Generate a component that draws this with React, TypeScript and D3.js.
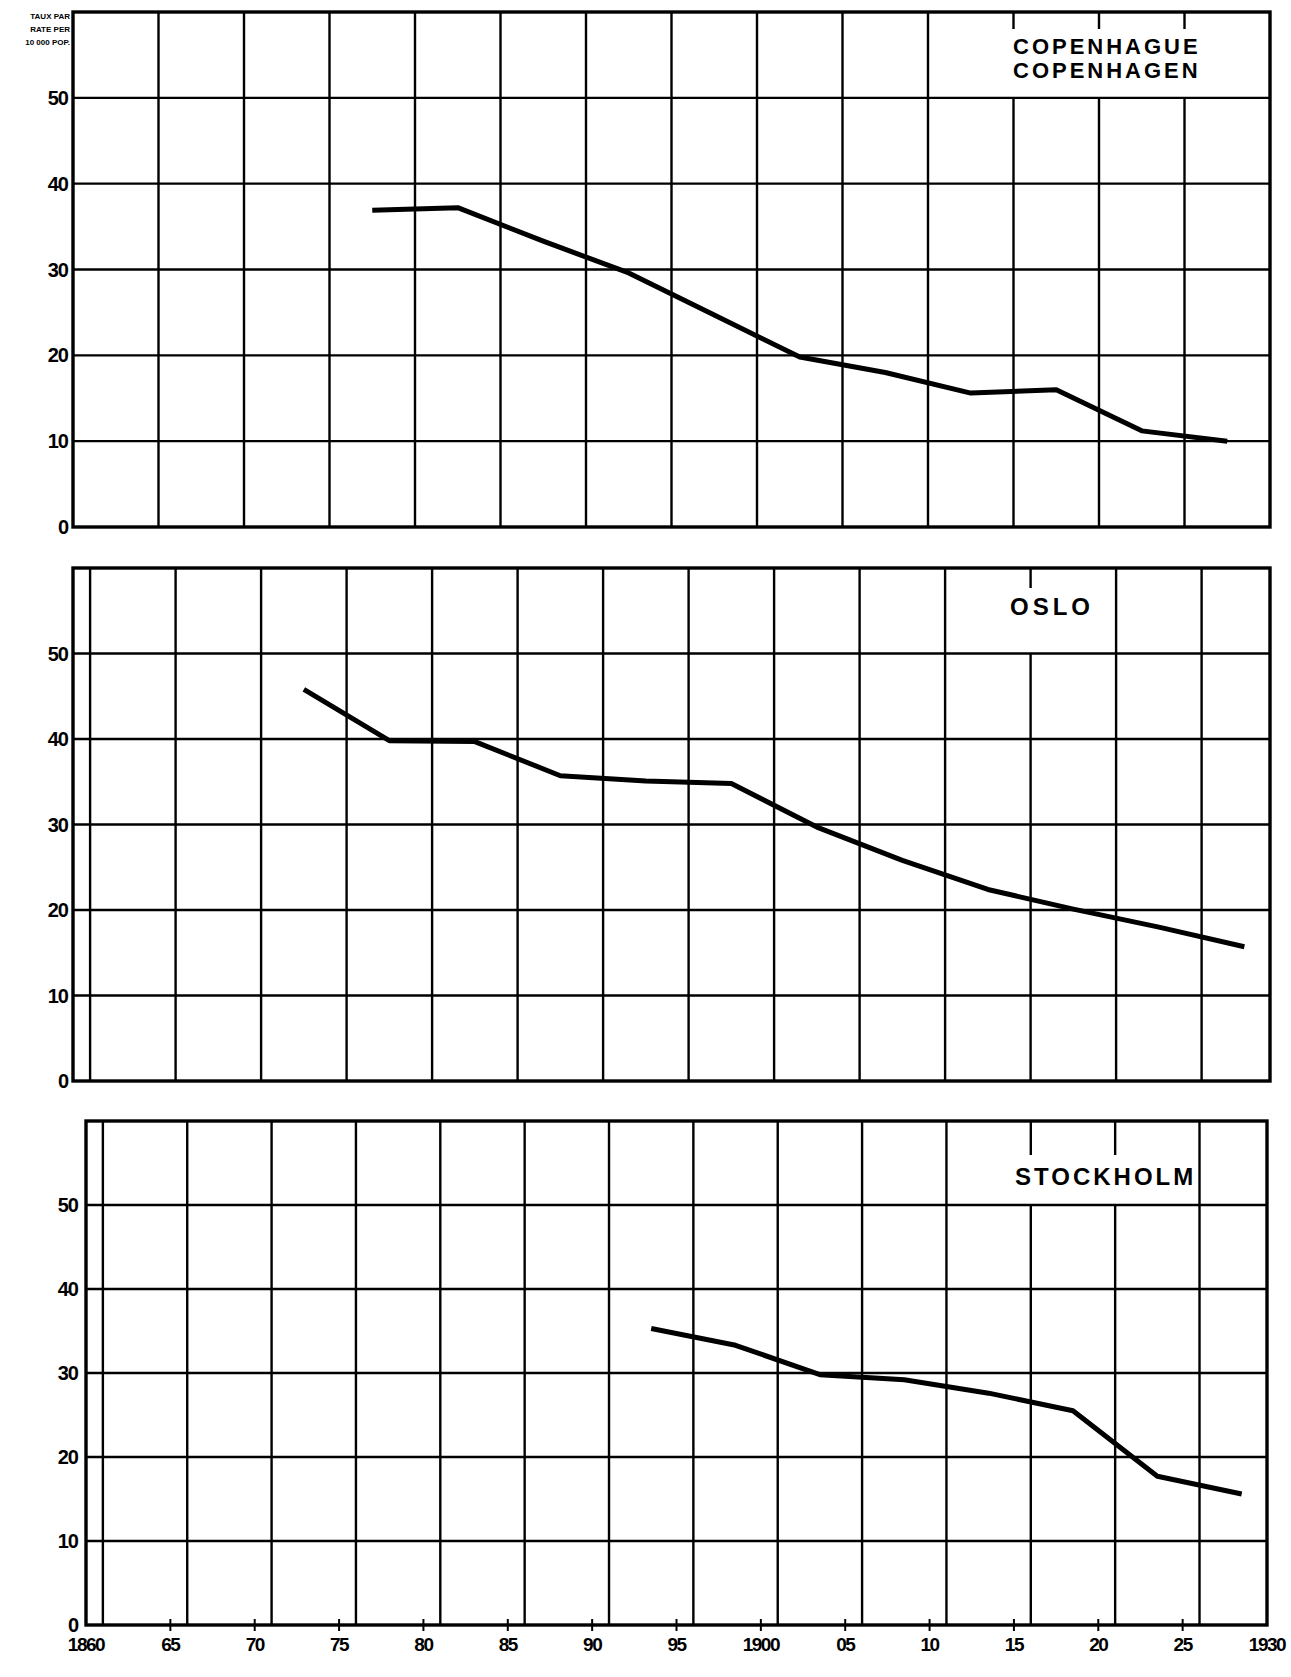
import { line, scaleLinear } from "d3";
import { FC } from "react";

// data: each point sits in the middle of a five-year cell
const copenhagenYears = [1877.5, 1882.5, 1887.5, 1892.5, 1897.5, 1902.5, 1907.5, 1912.5, 1917.5, 1922.5, 1927.5];
const copenhagenRates = [36.9, 37.2, 33.3, 29.6, 24.7, 19.8, 18.0, 15.6, 16.0, 11.2, 10.0];

const osloYears = [1873.5, 1878.5, 1883.5, 1888.5, 1893.5, 1898.5, 1903.5, 1908.5, 1913.5, 1918.5, 1923.5, 1928.5];
const osloRates = [45.8, 39.8, 39.7, 35.7, 35.1, 34.8, 29.7, 25.8, 22.4, 20.1, 18.0, 15.7];

const stockholmYears = [1893.5, 1898.5, 1903.5, 1908.5, 1913.5, 1918.5, 1923.5, 1928.5];
const stockholmRates = [35.3, 33.3, 29.8, 29.2, 27.6, 25.5, 17.7, 15.6];

// vertical rulings (top panel is drawn one year earlier than the others)
const gridYearsTop = [1865, 1870, 1875, 1880, 1885, 1890, 1895, 1900, 1905, 1910, 1915, 1920, 1925];
const gridYearsLower = [1861, 1866, 1871, 1876, 1881, 1886, 1891, 1896, 1901, 1906, 1911, 1916, 1921, 1926];

const rateTicks = [0, 10, 20, 30, 40, 50];
const yearTicks = [1860, 1865, 1870, 1875, 1880, 1885, 1890, 1895, 1900, 1905, 1910, 1915, 1920, 1925, 1930];
const yearLabels = ["1860", "65", "70", "75", "80", "85", "90", "95", "1900", "05", "10", "15", "20", "25", "1930"];

const unitLines = ["TAUX PAR", "RATE PER", "10 000 POP."];

const FONT = "'Liberation Sans', Arial, sans-serif";

type PanelProps = {
  left: number;
  right: number;
  top: number;
  bottom: number;
  gridYears: number[];
  years: number[];
  rates: number[];
  title: string[];
  titleX: number;
  titleY: number;
  titleSize: number;
  titleSpacing: number;
  box: [number, number, number];
  labelX: number;
  xAxis?: boolean;
};

const Panel: FC<PanelProps> = (p) => {
  const x = scaleLinear().domain([1860, 1930]).range([p.left, p.right]);
  const y = scaleLinear().domain([0, 60]).range([p.bottom, p.top]);
  const path = line<number>()
    .x((_, i) => x(p.years[i]))
    .y((d) => y(d))(p.rates);

  return (
    <g>
      {p.gridYears.map((yr) => (
        <line key={yr} x1={x(yr)} x2={x(yr)} y1={p.top} y2={p.bottom} stroke="#000" strokeWidth={2.4} />
      ))}
      {/* white patch behind the city name */}
      <rect x={p.box[0]} y={p.top + p.box[2]} width={p.box[1] - p.box[0]} height={y(50) - p.top - p.box[2]} fill="#fff" />
      {rateTicks.slice(1).map((r) => (
        <line key={r} x1={p.left} x2={p.right} y1={y(r)} y2={y(r)} stroke="#000" strokeWidth={2.4} />
      ))}
      <rect x={p.left} y={p.top} width={p.right - p.left} height={p.bottom - p.top} fill="none" stroke="#000" strokeWidth={3.4} />
      {rateTicks.map((r) => (
        <text key={r} x={p.labelX} y={y(r) + 7} textAnchor="end" fontFamily={FONT} fontWeight={700} fontSize={20} letterSpacing={-1}>
          {r}
        </text>
      ))}
      {p.title.map((t, i) => (
        <text key={t} x={p.titleX} y={p.titleY + i * 24} fontFamily={FONT} fontWeight={700} fontSize={p.titleSize} letterSpacing={p.titleSpacing}>
          {t}
        </text>
      ))}
      <path d={path ?? ""} fill="none" stroke="#000" strokeWidth={5} strokeLinejoin="round" />
      {p.xAxis &&
        yearTicks.map((yr, i) => (
          <g key={yr}>
            {i > 0 && i < yearTicks.length - 1 && (
              <line x1={x(yr)} x2={x(yr)} y1={p.bottom - 6} y2={p.bottom + 6} stroke="#000" strokeWidth={2} />
            )}
            <text x={x(yr)} y={p.bottom + 26} textAnchor="middle" fontFamily={FONT} fontWeight={700} fontSize={19} letterSpacing={-1.5}>
              {yearLabels[i]}
            </text>
          </g>
        ))}
    </g>
  );
};

const App: FC = () => (
  <svg width={1291} height={1677} style={{ position: "absolute", left: 0, top: 0, background: "#fff" }}>
    <rect width={1291} height={1677} fill="#fff" />
    {unitLines.map((t, i) => (
      <text key={t} x={70} y={19 + i * 13} textAnchor="end" fontFamily={FONT} fontWeight={700} fontSize={8}>
        {t}
      </text>
    ))}
    <Panel
      left={73}
      right={1270}
      top={12}
      bottom={527}
      gridYears={gridYearsTop}
      years={copenhagenYears}
      rates={copenhagenRates}
      title={["COPENHAGUE", "COPENHAGEN"]}
      titleX={1013}
      titleY={54}
      titleSize={22}
      titleSpacing={3}
      box={[1000, 1200, 17]}
      labelX={68}
    />
    <Panel
      left={73}
      right={1270}
      top={568}
      bottom={1081}
      gridYears={gridYearsLower}
      years={osloYears}
      rates={osloRates}
      title={["OSLO"]}
      titleX={1010}
      titleY={615}
      titleSize={24}
      titleSpacing={4}
      box={[1000, 1100, 20]}
      labelX={68}
    />
    <Panel
      left={86}
      right={1267}
      top={1121}
      bottom={1625}
      gridYears={gridYearsLower}
      years={stockholmYears}
      rates={stockholmRates}
      title={["STOCKHOLM"]}
      titleX={1015}
      titleY={1185}
      titleSize={24}
      titleSpacing={3}
      box={[1005, 1195, 34]}
      labelX={78}
      xAxis
    />
  </svg>
);

export default App;
